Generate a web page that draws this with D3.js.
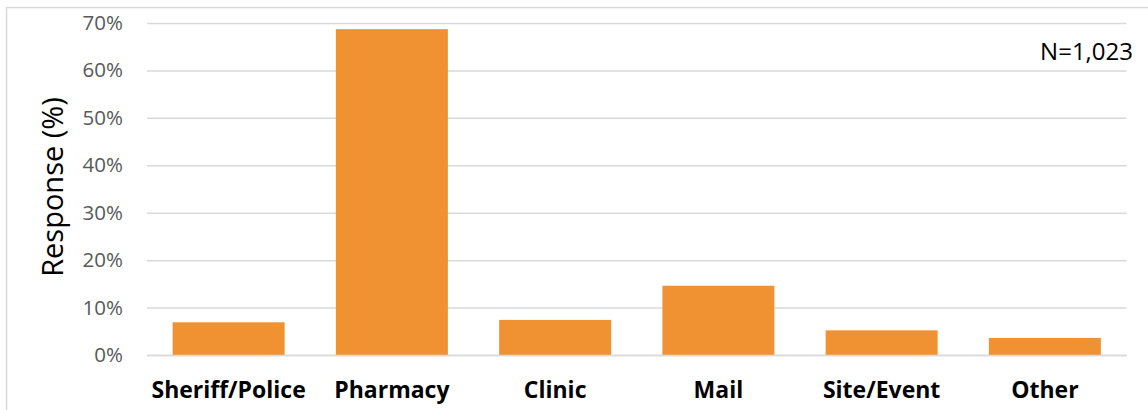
<!DOCTYPE html>
<html><head><meta charset="utf-8">
<script src="https://cdn.jsdelivr.net/npm/d3@7"></script>
<style>body{margin:0;background:#fff}svg{display:block}text{font-family:"Open Sans",sans-serif}</style>
</head><body><svg id="c" width="1148" height="410"></svg>
<script>
const categories = ["Sheriff/Police","Pharmacy","Clinic","Mail","Site/Event","Other"];
const values = [6.9, 68.7, 7.4, 14.6, 5.2, 3.6];
const yTicks = [0,10,20,30,40,50,60,70];
const yLabel = "Response (%)";
const note = "N=1,023";

const svg = d3.select("#c");
const L = 147, R = 1126.5, T = 23, B = 355;
svg.append("rect").attr("x",6.5).attr("y",7.5).attr("width",1160).attr("height",420)
  .attr("fill","none").attr("stroke","#d9d9d9").attr("stroke-width",1.5);

const x = d3.scaleBand().domain(categories).range([L,R]).paddingInner(0.314).paddingOuter(0.157);
const y = d3.scaleLinear().domain([0,70]).range([B,T]);

const ya = svg.append("g").attr("transform",`translate(${L},0)`)
  .call(d3.axisLeft(y).tickValues(yTicks).tickFormat(d=>d+"%").tickSize(-(R-L)).tickPadding(24));
ya.select(".domain").remove();
ya.selectAll(".tick line").attr("stroke","#d9d9d9").attr("stroke-width",1.5);
ya.selectAll(".tick text").attr("fill","#595959").style("font-size","20.5px");

svg.append("g").selectAll("rect").data(values).join("rect")
  .attr("x",(d,i)=>x(categories[i])).attr("width",x.bandwidth())
  .attr("y",d=>y(d)).attr("height",d=>B-y(d))
  .attr("fill","#f09232");

const xa = svg.append("g").attr("transform",`translate(0,${B})`)
  .call(d3.axisBottom(x).tickSize(0).tickPadding(27));
xa.select(".domain").attr("stroke","#d9d9d9").attr("stroke-width",1.5);
xa.selectAll(".tick text").attr("fill","#000").style("font-size","23px").style("font-weight","bold");

svg.append("text").attr("transform","translate(63,187) rotate(-90)").attr("text-anchor","middle")
  .style("font-size","29px").attr("fill","#000").text(yLabel);
svg.append("text").attr("x",1133).attr("y",60).attr("text-anchor","end")
  .style("font-size","24px").attr("fill","#000").text(note);
</script></body></html>
